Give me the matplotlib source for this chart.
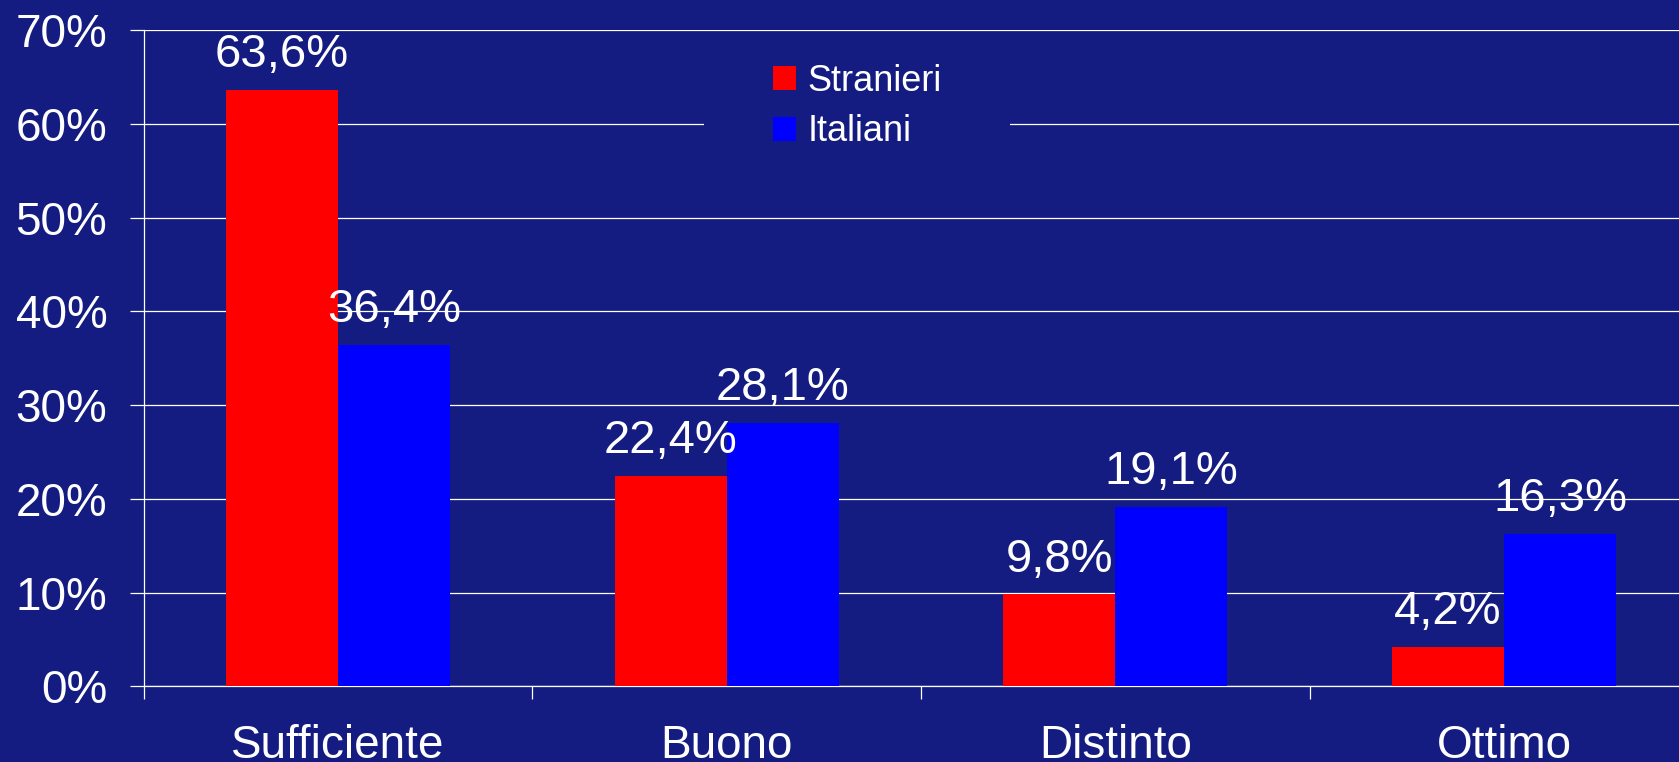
import matplotlib
matplotlib.use("Agg")
import matplotlib.pyplot as plt
from matplotlib.path import Path

# -----------------------------
# Data
# -----------------------------
categories = ["Sufficiente", "Buono", "Distinto", "Ottimo"]
stranieri = [63.6, 22.4, 9.8, 4.2]
italiani = [36.4, 28.1, 19.1, 16.3]
series_names = ["Stranieri", "Italiani"]
y_ticks = [0, 10, 20, 30, 40, 50, 60, 70]

BG = "#141c82"
FONT = "Liberation Sans"


def fmt_pct(v: float) -> str:
    return f"{v:.1f}".replace(".", ",") + "%"


def wide_box(x0, y0, width, height, mutation_size):
    """Legend frame padded wider than tall (hides gridlines behind it)."""
    padx = 1.6 * mutation_size
    pady = 0.1 * mutation_size
    x1, y1 = x0 + width + padx, y0 + height + pady
    xa, ya = x0 - padx, y0 - pady
    return Path([(xa, ya), (x1, ya), (x1, y1), (xa, y1), (xa, ya)], closed=True)


# -----------------------------
# Plot
# -----------------------------
def main():
    plt.rcParams["font.family"] = [FONT, "DejaVu Sans"]

    fig = plt.figure(figsize=(16.79, 7.62), dpi=100, facecolor=BG)
    ax = fig.add_axes([143.5 / 1679, 1 - 686.3 / 762, 1 - 143.5 / 1679, (686.3 - 30.3) / 762])
    ax.set_facecolor(BG)

    x = list(range(len(categories)))
    w = 0.288
    b1 = ax.bar([i - w / 2 for i in x], stranieri, width=w, color="#ff0000", zorder=3, label=series_names[0])
    b2 = ax.bar([i + w / 2 for i in x], italiani, width=w, color="#0000ff", zorder=3, label=series_names[1])

    # value labels above each bar
    for bars, vals in ((b1, stranieri), (b2, italiani)):
        for rect, v in zip(bars, vals):
            ax.annotate(fmt_pct(v), (rect.get_x() + rect.get_width() / 2, v),
                        xytext=(0, 16.5), textcoords="offset points",
                        ha="center", va="baseline", color="white", fontsize=34, zorder=4)

    ax.set_xlim(-0.5, 3.45)
    ax.set_ylim(0, 70)

    ax.set_yticks(y_ticks)
    ax.set_yticklabels([f"{t}%" for t in y_ticks])
    ax.set_xticks(x)
    ax.set_xticklabels(categories)
    ax.set_xticks([i - 0.5 for i in x], minor=True)

    ax.tick_params(axis="y", colors="white", labelcolor="white", labelsize=33,
                   length=10, width=0.9, pad=16)
    ax.tick_params(axis="x", which="major", length=0, labelcolor="white", labelsize=33, pad=27)
    ax.tick_params(axis="x", which="minor", colors="white", length=9, width=0.9)

    ax.grid(axis="y", color="white", linewidth=0.9, zorder=1)
    ax.set_axisbelow(True)
    for side in ("top", "right"):
        ax.spines[side].set_visible(False)
    for side in ("left", "bottom"):
        ax.spines[side].set_color("white")
        ax.spines[side].set_linewidth(0.9)

    leg = ax.legend(loc="upper left", bbox_to_anchor=(762 / 1679, 1 - 53 / 762),
                    bbox_transform=fig.transFigure, fontsize=26, frameon=True,
                    facecolor=BG, edgecolor="none", framealpha=1.0, fancybox=False,
                    borderpad=0.3, borderaxespad=0, handlelength=0.65, handleheight=0.65,
                    handletextpad=0.3, labelspacing=0.43)
    leg.legendPatch.set_boxstyle(wide_box)
    leg.set_zorder(5)
    for t in leg.get_texts():
        t.set_color("white")

    fig.savefig("out.png", dpi=100, facecolor=BG)
    plt.close(fig)


if __name__ == "__main__":
    main()
